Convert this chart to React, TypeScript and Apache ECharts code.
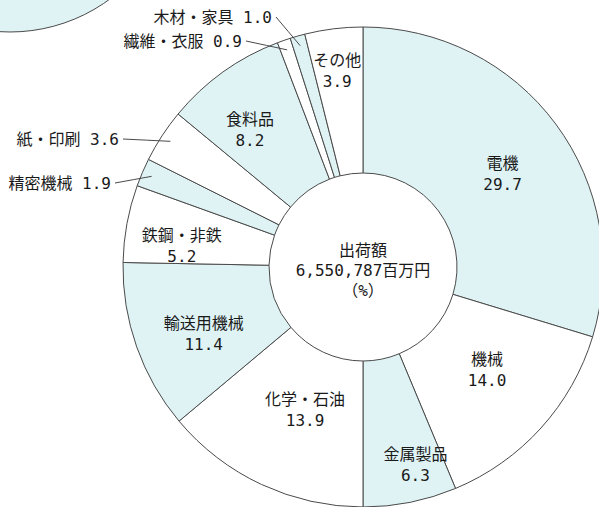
import React, { useEffect, useRef } from "react";
import * as echarts from "echarts";

const categories = ["電機", "機械", "金属製品", "化学・石油", "輸送用機械", "鉄鋼・非鉄", "精密機械", "紙・印刷", "食料品", "繊維・衣服", "木材・家具", "その他"];
const shares = [29.7, 14.0, 6.3, 13.9, 11.4, 5.2, 1.9, 3.6, 8.2, 0.9, 1.0, 3.9];
const centerLines = ["出荷額", "6,550,787百万円", "（%）"];

const FONT = "'DejaVu Sans Mono', 'Noto Sans CJK JP', monospace";
const BLUE = "#dff3f5";
const EDGE = "#4a4a4a";
const CX = 363;
const CY = 267;
const R_IN = 94;
const R_OUT = 240;

// label placement (layout only)
const outsideAnchors: Record<string, [number, number]> = {
  "木材・家具": [272, 17],
  "繊維・衣服": [242, 41],
  "紙・印刷": [119, 139],
  "精密機械": [111, 183],
};
const insideOffsets: Record<string, [number, number]> = {
  "電機": [3, 8],
  "機械": [-2, -11],
  "金属製品": [19, 31],
  "化学・石油": [14, -11],
  "輸送用機械": [1, 10],
  "鉄鋼・非鉄": [-14, 10],
  "食料品": [-14, 1],
  "その他": [-5, -27],
};

export default function App() {
  const ref = useRef<HTMLDivElement>(null);
  useEffect(() => {
    if (!ref.current) return;
    const chart = echarts.init(ref.current, null, { renderer: "svg" });
    const total = shares.reduce((a, b) => a + b, 0);
    const midAngles: number[] = [];
    let acc = 0;
    shares.forEach((v) => {
      midAngles.push(((acc + v / 2) / total) * Math.PI * 2);
      acc += v;
    });
    const baseData = categories.map((name, i) => {
      const outside = outsideAnchors[name] != null;
      return {
        name,
        value: shares[i],
        itemStyle: { color: i % 2 === 0 ? BLUE : "#ffffff" },
        label: outside
          ? { show: false }
          : { show: true, position: "inside", formatter: (p: any) => `${p.name}\n${p.value.toFixed(1)}` },
        labelLine: { show: false },
      };
    });
    const overlayData = categories.map((name, i) => {
      const outside = outsideAnchors[name] != null;
      return {
        name,
        value: shares[i],
        label: outside
          ? { show: true, position: "outside", formatter: (p: any) => `${p.name} ${p.value.toFixed(1)}` }
          : { show: false },
        labelLine: outside ? { show: true, lineStyle: { color: EDGE, width: 1 } } : { show: false },
      };
    });
    const labelStyle = {
      color: "#1a1a1a",
      fontSize: 16,
      fontFamily: FONT,
      lineHeight: 21,
    };
    chart.setOption({
      animation: false,
      graphic: [
        {
          type: "circle",
          shape: { cx: 10, cy: -136, r: 168 },
          style: { fill: BLUE, stroke: EDGE, lineWidth: 1 },
          silent: true,
        },
        {
          type: "text",
          x: CX,
          y: CY + 3,
          style: {
            text: centerLines.join("\n"),
            fill: "#1a1a1a",
            fontSize: 16,
            fontFamily: FONT,
            lineHeight: 20,
            textAlign: "center",
            textVerticalAlign: "middle",
          },
          z: 10,
        },
      ],
      series: [
        {
          type: "pie",
          center: [CX, CY],
          radius: [R_IN, R_OUT],
          startAngle: 90,
          clockwise: true,
          avoidLabelOverlap: false,
          emphasis: { disabled: true },
          itemStyle: { borderColor: EDGE, borderWidth: 1 },
          label: labelStyle,
          data: baseData,
          labelLayout: (params: any) => {
            const name = categories[params.dataIndex];
            const off = insideOffsets[name] || [0, 0];
            return { dx: off[0], dy: off[1] };
          },
        },
        {
          type: "pie",
          z: 5,
          silent: true,
          center: [CX, CY],
          radius: [R_IN, R_OUT],
          startAngle: 90,
          clockwise: true,
          avoidLabelOverlap: false,
          emphasis: { disabled: true },
          itemStyle: { color: "rgba(0,0,0,0)", borderWidth: 0 },
          label: labelStyle,
          data: overlayData,
          labelLayout: (params: any) => {
            const name = categories[params.dataIndex];
            const anchor = outsideAnchors[name];
            if (!anchor) return {};
            const a = midAngles[params.dataIndex];
            const r = R_OUT - 10;
            const px = CX + r * Math.sin(a);
            const py = CY - r * Math.cos(a);
            const sx = anchor[0] + 4;
            const sy = anchor[1];
            return {
              x: anchor[0],
              y: anchor[1],
              align: "right",
              verticalAlign: "middle",
              labelLinePoints: [
                [sx, sy],
                [(sx + px) / 2, (sy + py) / 2],
                [px, py],
              ],
            };
          },
        },
      ],
    });
    return () => chart.dispose();
  }, []);
  return <div ref={ref} style={{ position: "absolute", left: 0, top: 0, width: 599, height: 507 }} />;
}
